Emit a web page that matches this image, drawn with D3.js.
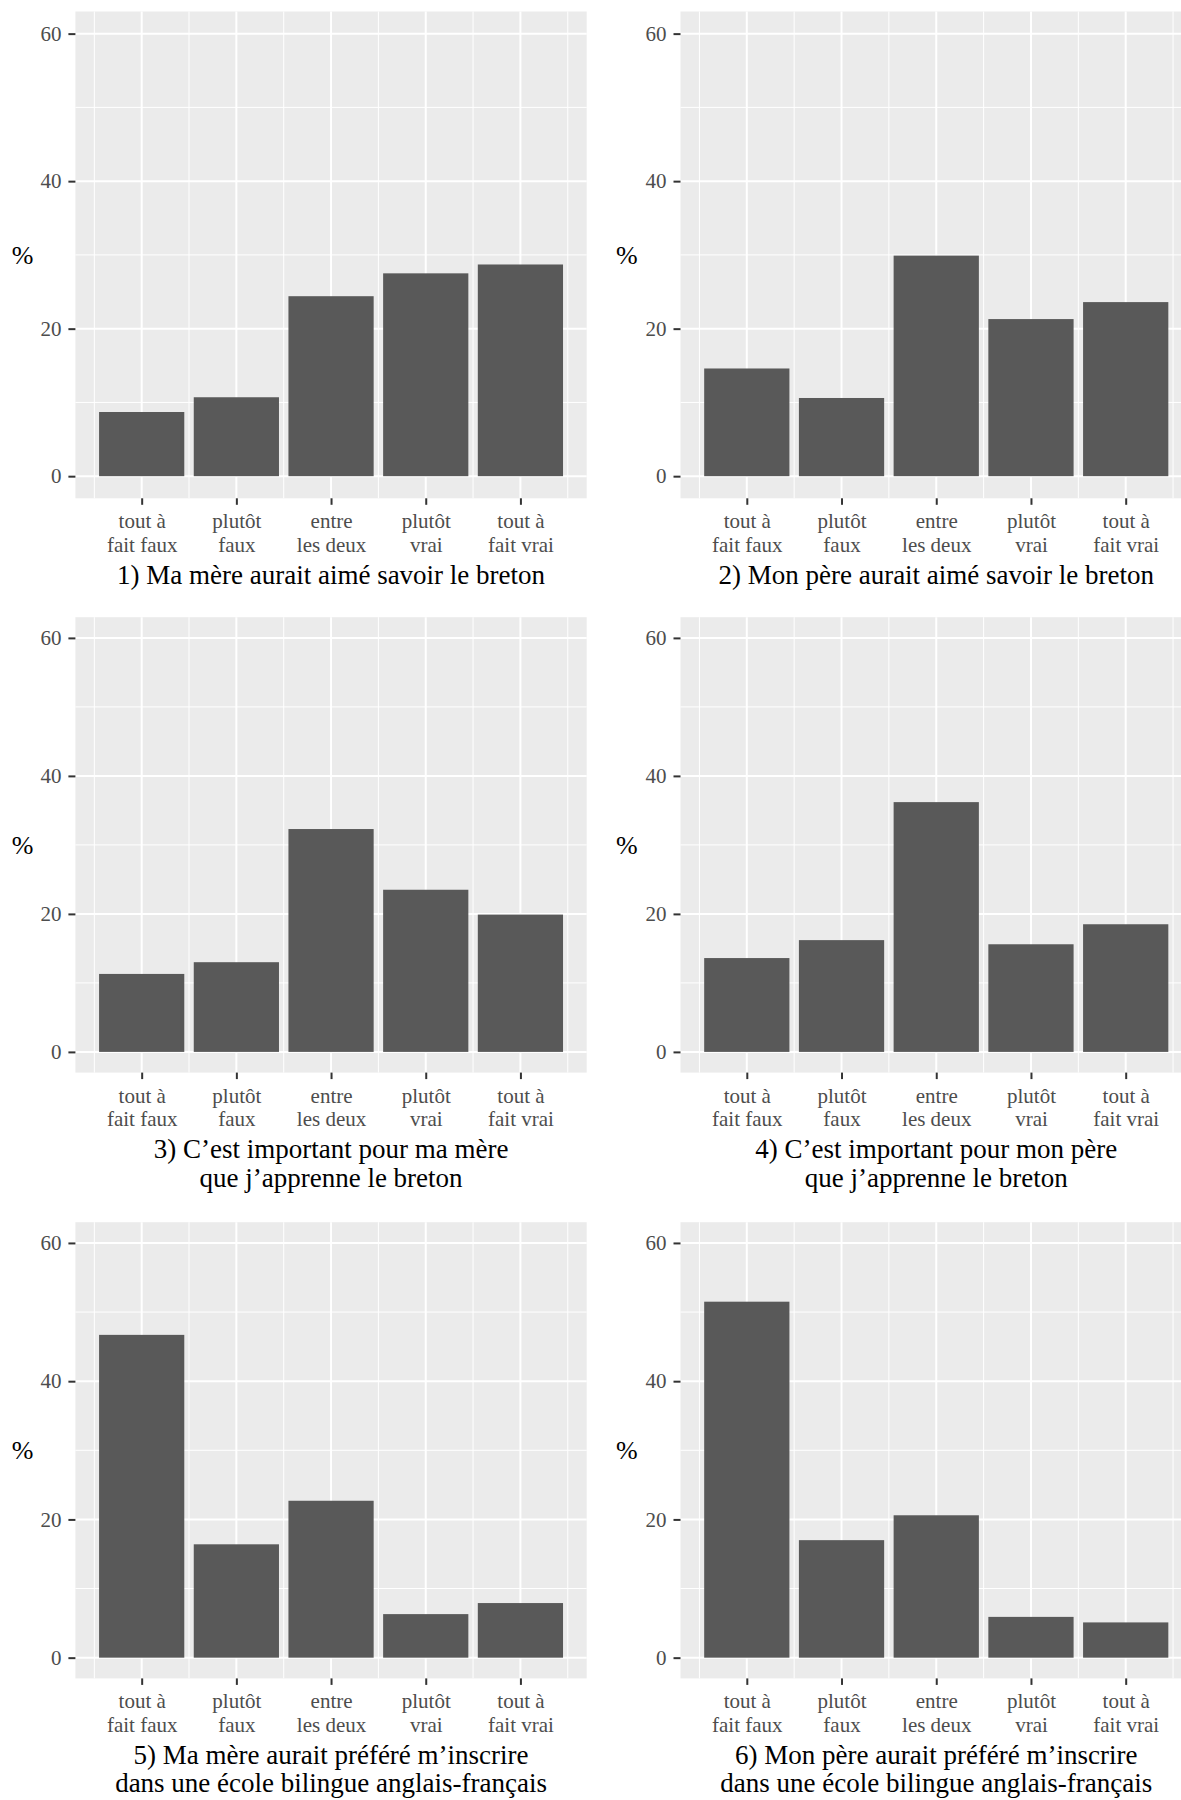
<!DOCTYPE html>
<html>
<head>
<meta charset="utf-8">
<script src="https://cdn.jsdelivr.net/npm/d3@7"></script>
<style>
  html, body { margin: 0; padding: 0; background: #ffffff; }
  svg { display: block; }
</style>
</head>
<body>
<div id="chart"></div>
<script>
// ---------- data ----------
const categories = ["tout à\nfait faux", "plutôt\nfaux", "entre\nles deux", "plutôt\nvrai", "tout à\nfait vrai"];
const values1 = [8.7, 10.7, 24.4, 27.5, 28.7];
const values2 = [14.6, 10.6, 29.9, 21.3, 23.6];
const values3 = [11.3, 13.0, 32.3, 23.5, 19.9];
const values4 = [13.6, 16.2, 36.2, 15.6, 18.5];
const values5 = [46.7, 16.4, 22.7, 6.3, 7.9];
const values6 = [51.5, 17.0, 20.6, 5.9, 5.1];
const titles = [
  ["1) Ma mère aurait aimé savoir le breton"],
  ["2) Mon père aurait aimé savoir le breton"],
  ["3) C\u2019est important pour ma mère", "que j\u2019apprenne le breton"],
  ["4) C\u2019est important pour mon père", "que j\u2019apprenne le breton"],
  ["5) Ma mère aurait préféré m\u2019inscrire", "dans une école bilingue anglais-français"],
  ["6) Mon père aurait préféré m\u2019inscrire", "dans une école bilingue anglais-français"]
];
const yTicks = [0, 20, 40, 60];
const yMinor = [10, 30, 50];
const yLabel = "%";
const seriesList = [values1, values2, values3, values4, values5, values6];

// ---------- layout ----------
const W = 1181, H = 1800;
const cols = [{left: 75.4, right: 586.7, ytitle: 22.5}, {left: 680.5, right: 1192, ytitle: 626.8}];
const rows = [{top: 11.5, bottom: 498.3}, {top: 617.2, bottom: 1072.6}, {top: 1222.2, bottom: 1678.4}];
const FONT = "'Liberation Serif', 'Times New Roman', serif";

const svg = d3.select("#chart").append("svg")
  .attr("width", W).attr("height", H)
  .attr("viewBox", `0 0 ${W} ${H}`);
svg.append("rect").attr("width", W).attr("height", H).attr("fill", "#ffffff");

seriesList.forEach((vals, i) => {
  const c = cols[i % 2], r = rows[Math.floor(i / 2)];
  const g = svg.append("g");

  const x = d3.scalePoint().domain(categories).range([c.left, c.right]).padding(0.7);
  const step = x.step();
  const y = d3.scaleLinear().domain([-3, 63]).range([r.bottom, r.top]);

  // panel background
  g.append("rect")
    .attr("x", c.left).attr("y", r.top)
    .attr("width", c.right - c.left).attr("height", r.bottom - r.top)
    .attr("fill", "#EBEBEB");

  // minor grid
  g.selectAll(".ymin").data(yMinor).join("line")
    .attr("x1", c.left).attr("x2", c.right)
    .attr("y1", d => y(d)).attr("y2", d => y(d))
    .attr("stroke", "#ffffff").attr("stroke-width", 1);
  const xMinor = d3.range(categories.length + 1).map(k => x(categories[0]) - step / 2 + k * step);
  g.selectAll(".xmin").data(xMinor).join("line")
    .attr("x1", d => d).attr("x2", d => d)
    .attr("y1", r.top).attr("y2", r.bottom)
    .attr("stroke", "#ffffff").attr("stroke-width", 1);

  // major grid
  g.selectAll(".ymaj").data(yTicks).join("line")
    .attr("x1", c.left).attr("x2", c.right)
    .attr("y1", d => y(d)).attr("y2", d => y(d))
    .attr("stroke", "#ffffff").attr("stroke-width", 2);
  g.selectAll(".xmaj").data(categories).join("line")
    .attr("x1", d => x(d)).attr("x2", d => x(d))
    .attr("y1", r.top).attr("y2", r.bottom)
    .attr("stroke", "#ffffff").attr("stroke-width", 2);

  // bars
  g.selectAll(".bar").data(vals).join("rect")
    .attr("x", (d, k) => x(categories[k]) - 0.45 * step)
    .attr("width", 0.9 * step)
    .attr("y", d => y(d))
    .attr("height", d => y(0) - y(d))
    .attr("fill", "#595959");

  // y axis
  const yAxis = d3.axisLeft(y).tickValues(yTicks).tickSize(7).tickPadding(7);
  const ya = g.append("g").attr("transform", `translate(${c.left},0)`).call(yAxis);
  ya.select(".domain").remove();
  ya.selectAll(".tick line").attr("stroke", "#333333").attr("stroke-width", 2);
  ya.selectAll(".tick text")
    .attr("fill", "#4D4D4D").style("font-family", FONT).style("font-size", "21px");

  // x axis
  const xAxis = d3.axisBottom(x).tickSize(6.5).tickFormat("");
  const xa = g.append("g").attr("transform", `translate(0,${r.bottom})`).call(xAxis);
  xa.select(".domain").remove();
  xa.selectAll(".tick line").attr("stroke", "#333333").attr("stroke-width", 2);
  xa.selectAll(".tick").each(function(d) {
    const t = d3.select(this).append("text")
      .attr("text-anchor", "middle")
      .attr("fill", "#4D4D4D")
      .style("font-family", FONT).style("font-size", "21px");
    d.split("\n").forEach((line, li) => {
      t.append("tspan").attr("x", 0).attr("y", 30 + li * 23.5).text(line);
    });
  });

  // y title
  g.append("text")
    .attr("x", c.ytitle).attr("y", (r.top + r.bottom) / 2 + 9)
    .attr("text-anchor", "middle")
    .attr("fill", "#000000")
    .style("font-family", FONT).style("font-size", "26px")
    .text(yLabel);

  // panel title (x axis title)
  const tt = g.append("text")
    .attr("text-anchor", "middle")
    .attr("fill", "#000000")
    .style("font-family", FONT).style("font-size", "27px");
  titles[i].forEach((line, li) => {
    tt.append("tspan")
      .attr("x", (c.left + c.right) / 2)
      .attr("y", r.bottom + 85.5 + li * 28.5)
      .text(line);
  });
});
</script>
</body>
</html>
